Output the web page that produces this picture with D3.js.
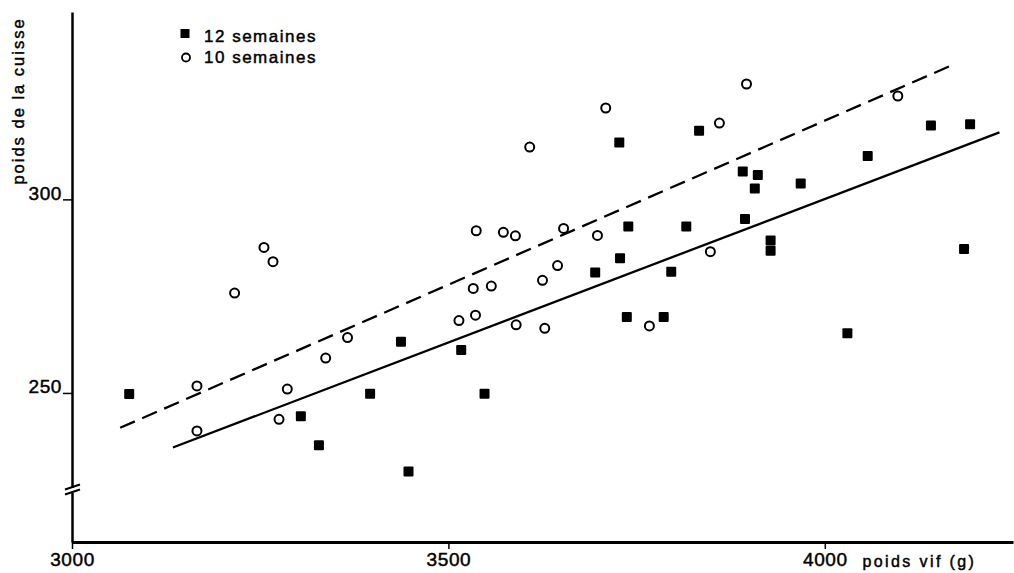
<!DOCTYPE html>
<html>
<head>
<meta charset="utf-8">
<script src="https://cdn.jsdelivr.net/npm/d3@7"></script>
<style>
	body { margin: 0; background: #fff; }
	svg { display: block; font-family: "Liberation Sans", "DejaVu Sans", sans-serif; }
	.axis path, .axis line { stroke: #000; }
	.axis text { fill: #000; }
	text { stroke: #000; stroke-width: 0.45px; }
</style>
</head>
<body>
<script>
//poids de la cuisse vs poids vif, 10 and 12 week groups
(function(){

//DATA
//12 semaines (filled squares)
var week12X = [3076, 3304, 3328, 3396, 3437, 3447, 3517, 3548, 3695, 3728, 3727, 3739, 3737, 3786, 3796,
	3816, 3833, 3891, 3894, 3911, 3907, 3928, 3928, 3968, 4030, 4057, 4141, 4185, 4193];
var week12Y = [249.7, 244.0, 236.5, 249.8, 263.2, 229.7, 261.1, 249.8, 281.1, 284.8, 314.7, 293.0, 269.6, 269.6, 281.3,
	293.0, 317.7, 307.2, 294.9, 306.3, 302.8, 289.4, 286.7, 304.1, 265.4, 311.2, 319.1, 287.2, 319.4];

//10 semaines (open circles)
var week10X = [3166, 3166, 3255, 3267, 3216, 3286, 3275, 3337, 3366, 3514, 3536, 3533, 3557, 3537, 3573,
	3589, 3590, 3608, 3625, 3628, 3645, 3653, 3698, 3709, 3767, 3848, 3860, 3896, 4097];
var week10Y = [251.8, 240.2, 287.6, 283.9, 275.8, 251.0, 243.2, 259.0, 264.3, 268.7, 270.1, 277.0, 277.6, 291.9, 291.5,
	290.6, 267.6, 313.5, 279.1, 266.7, 282.9, 292.5, 290.7, 323.6, 267.3, 286.5, 319.7, 329.8, 326.7];

//regression lines (end points)
var line12X = [3134, 4232];
var line12Y = [235.9, 317.3];
var line10X = [3064, 4173];
var line10Y = [241.0, 335.0];

//ticks and labels
var xTicks = [3000, 3500, 4000];
var yTicks = [250, 300];
var legendLabels = ["12 semaines", "10 semaines"];
var xTitle = "poids vif (g)";
var yTitle = "poids de la cuisse";

window.onload = drawChart();

function drawChart(){
	var w = 1014, h = 573;
	var margin = {top: 12, right: 1, bottom: 31, left: 72};
	var innerW = w - margin.left - margin.right,
		innerH = h - margin.top - margin.bottom;

	var svg = d3.select("body")
		.append("svg")
		.attr("width", w)
		.attr("height", h)
		;

	var chart = svg.append("g")
		.attr("transform", "translate(" + margin.left + "," + margin.top + ")")
		;

	//SCALES
	var xScale = d3.scaleLinear()
		.domain([3000, 4250])
		.range([0, innerW])
		;

	var yScale = d3.scaleLinear()
		.domain([211.5, 348.4]) //bottom part is below the axis break
		.range([innerH, 0])
		;

	//AXES
	var xAxisG = d3.axisBottom(xScale)
		.tickValues(xTicks)
		.tickSize(7)
		.tickSizeOuter(0)
		.tickPadding(4)
		.tickFormat(d3.format("d"))
		;

	var xAxis = chart.append("g")
		.attr("class", "axis xAxis")
		.attr("transform", "translate(0," + innerH + ")")
		.call(xAxisG)
		;
	xAxis.select(".domain").attr("stroke-width", 3);
	xAxis.selectAll(".tick line").attr("stroke-width", 1.5);
	xAxis.selectAll(".tick text")
		.attr("letter-spacing", "0.6px")
		.style("font-size", "19px")
		;

	var yAxisG = d3.axisLeft(yScale)
		.tickValues(yTicks)
		.tickSize(9)
		.tickSizeOuter(0)
		.tickPadding(1)
		.tickFormat(d3.format("d"))
		;

	var yAxis = chart.append("g")
		.attr("class", "axis yAxis")
		.call(yAxisG)
		;
	yAxis.select(".domain").attr("stroke-width", 2.5);
	yAxis.selectAll(".tick line").attr("stroke-width", 1.5);
	yAxis.selectAll(".tick text")
		.attr("dy", "0")
		.attr("letter-spacing", "0.6px")
		.style("font-size", "19px")
		;

	//axis break (the two little slashes)
	var breakY = 478;
	chart.append("rect")
		.attr("x", -4)
		.attr("y", breakY - 2)
		.attr("width", 8)
		.attr("height", 5)
		.attr("fill", "#fff")
		;
	[-3, 2].forEach(function(off){
		chart.append("line")
			.attr("x1", -7).attr("y1", breakY + off + 2.5)
			.attr("x2", 8).attr("y2", breakY + off - 2.5)
			.attr("stroke", "#000")
			.attr("stroke-width", 2)
			;
	});

	//TITLES
	chart.append("text")
		.attr("x", xScale(4050))
		.attr("y", innerH + 25)
		.attr("letter-spacing", "2.4px")
		.style("font-size", "16px")
		.text(xTitle)
		;

	svg.append("text")
		.attr("transform", "translate(24,101) rotate(-90)")
		.attr("text-anchor", "middle")
		.attr("letter-spacing", "2px")
		.style("font-size", "16.5px")
		.text(yTitle)
		;

	//REGRESSION LINES
	var lineGen = d3.line()
		.x(function(d){ return xScale(d[0]); })
		.y(function(d){ return yScale(d[1]); })
		;

	chart.append("path")
		.datum(d3.zip(line12X, line12Y))
		.attr("d", lineGen)
		.attr("fill", "none")
		.attr("stroke", "#000")
		.attr("stroke-width", 2.3)
		;

	chart.append("path")
		.datum(d3.zip(line10X, line10Y))
		.attr("d", lineGen)
		.attr("fill", "none")
		.attr("stroke", "#000")
		.attr("stroke-width", 2.3)
		.attr("stroke-dasharray", "16,8")
		;

	//POINTS
	var sq = 10;
	chart.selectAll(".sq")
		.data(d3.zip(week12X, week12Y))
		.enter()
		.append("rect")
		.attr("class", "sq")
		.attr("x", function(d){ return xScale(d[0]) - sq/2; })
		.attr("y", function(d){ return yScale(d[1]) - sq/2; })
		.attr("width", sq)
		.attr("height", sq)
		.attr("rx", 1)
		.attr("fill", "#000")
		;

	chart.selectAll(".circ")
		.data(d3.zip(week10X, week10Y))
		.enter()
		.append("circle")
		.attr("class", "circ")
		.attr("cx", function(d){ return xScale(d[0]); })
		.attr("cy", function(d){ return yScale(d[1]); })
		.attr("r", 4.5)
		.attr("fill", "#fff")
		.attr("stroke", "#000")
		.attr("stroke-width", 2)
		;

	//LEGEND
	var legend = svg.append("g")
		.attr("transform", "translate(185,0)")
		;
	legend.append("rect")
		.attr("x", -4.5).attr("y", 29)
		.attr("width", 9).attr("height", 9)
		.attr("fill", "#000")
		;
	legend.append("circle")
		.attr("cx", 1).attr("cy", 57.5)
		.attr("r", 4)
		.attr("fill", "#fff")
		.attr("stroke", "#000")
		.attr("stroke-width", 1.8)
		;
	legend.selectAll(".legendText")
		.data(legendLabels)
		.enter()
		.append("text")
		.attr("class", "legendText")
		.attr("x", 19)
		.attr("y", function(d, i){ return 42 + i*21; })
		.attr("letter-spacing", "1.5px")
		.style("font-size", "17px")
		.text(function(d){ return d; })
		;
};

})();
</script>
</body>
</html>
